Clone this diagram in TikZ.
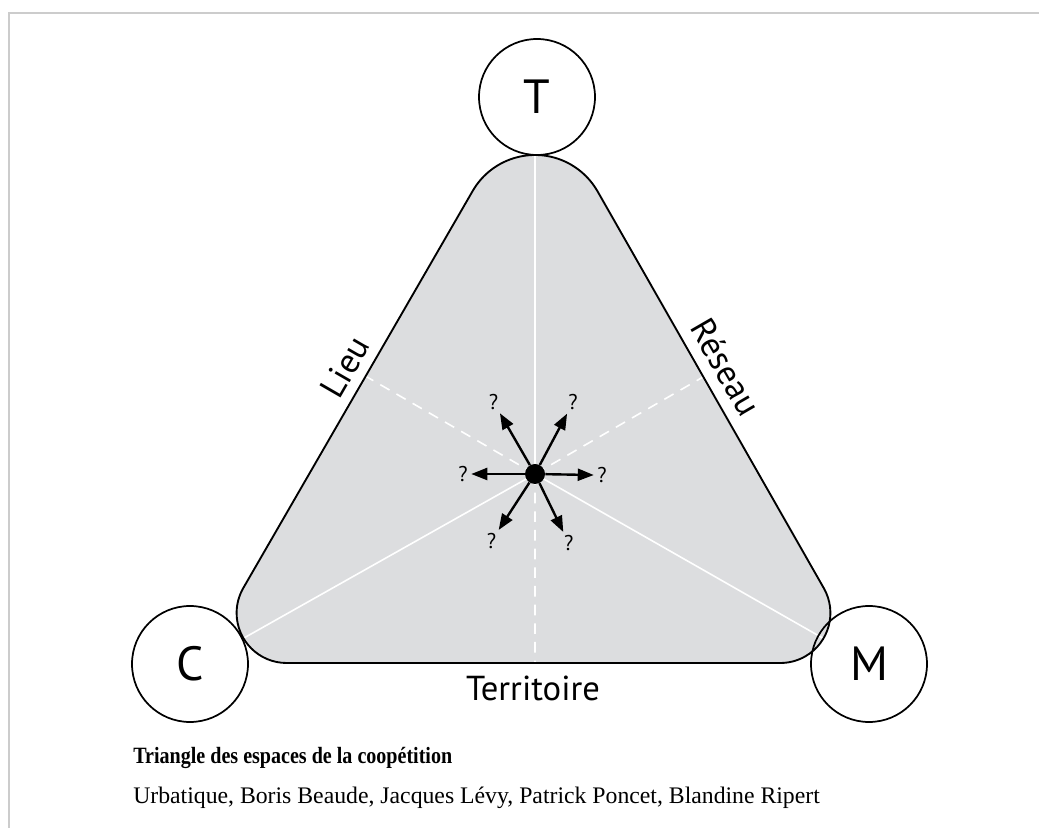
\documentclass[tikz,border=0pt]{standalone}
\usepackage{fontspec}
\setmainfont{Liberation Serif}
\newfontfamily\labelfont{PT Sans}
\usetikzlibrary{arrows.meta}

\definecolor{trigray}{HTML}{DCDDDF}
\definecolor{framegray}{HTML}{CCCCCC}

% outline of the rounded triangle
\newcommand{\trishape}{(472.65,637) arc[start angle=150,end angle=30,radius=54pt]
  -- (823.7,240) arc[start angle=30,end angle=-90,radius=37.5pt]
  -- (286.6,165) arc[start angle=-90,end angle=-210,radius=37.5pt] -- cycle}

\tikzset{
  vertex/.style={circle,draw,line width=1.3pt,minimum size=87pt,inner sep=0pt,
    font=\labelfont\fontsize{36}{36}\selectfont},
  sidelabel/.style={inner sep=0pt,font=\labelfont\fontsize{26}{26}\selectfont},
  query/.style={inner sep=1.5pt,font=\labelfont\fontsize{16}{16}\selectfont},
  pointer/.style={line width=1.8pt,-{Triangle[length=12pt,width=9pt]},shorten >=1pt},
  whiteline/.style={white,line width=1.2pt}
}

\begin{document}
\begin{tikzpicture}[x=0.75pt,y=0.75pt]
\useasboundingbox (0,0) rectangle (1039,828);
% frame
\draw[framegray,line width=1.5pt] (9,0) -- (9,815) -- (1039,815);
% triangle
\fill[trigray] \trishape;
\coordinate (o) at (535,354);
\begin{scope}
\clip \trishape;
\draw[whiteline] (o) -- ++(90:400) (o) -- ++(209.4:500) (o) -- ++(-29.7:500);
\draw[whiteline,dash pattern=on 8pt off 6pt] (o) -- ++(150:300) (o) -- ++(30:300) (o) -- ++(-90:300);
\end{scope}
\draw[line width=1.4pt] \trishape;

% poles
\node[vertex] (T) at (537,731) {T};
\node[vertex] (C) at (190,164) {C};
\node[vertex] (M) at (869,164) {M};

% sides
\node[sidelabel,rotate=60] (lieu) at (345,461) {Lieu};
\node[sidelabel,rotate=-60] (reseau) at (726,461) {Réseau};
\node[sidelabel] (territoire) at (533,140) {Territoire};

% centre and arrows
\node[circle,fill=black,minimum size=15pt,inner sep=0pt] (dot) at (o) {};
\foreach \ang/\dist [count=\i] in {120/83,62/81,180/72,-1/67,237/80,296/77}{
  \path (dot.center) ++(\ang:\dist) node[query] (q\i) {?};
  \draw[pointer] (dot) -- (q\i);
}

% caption
\node[anchor=base west,inner sep=0pt,font=\bfseries\fontsize{17.5}{17.5}\selectfont] (title) at (133,64) {\scalebox{0.86}[1]{Triangle des espaces de la coopétition}};
\node[anchor=base west,inner sep=0pt,font=\fontsize{17.8}{17.8}\selectfont] (credit) at (133,24) {Urbatique, Boris Beaude, Jacques Lévy, Patrick Poncet, Blandine Ripert};
\end{tikzpicture}
\end{document}
